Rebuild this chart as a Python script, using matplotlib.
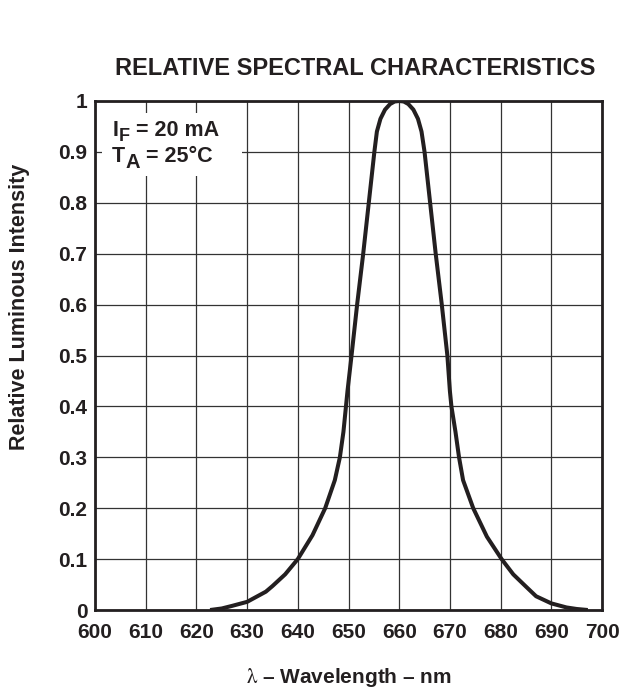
import numpy as np
import matplotlib
matplotlib.use("Agg")
import matplotlib.pyplot as plt
from matplotlib.patches import Rectangle

plt.rcParams['font.family'] = ['Liberation Sans', 'DejaVu Sans']
plt.rcParams['mathtext.fontset'] = 'stix'

# wavelength (nm) and relative luminous intensity
wavelength = [622.7, 625, 627, 630, 633.7, 635, 637.5, 640, 642.9, 645.4,
              647.3, 648.3, 649.0, 649.5, 649.8, 650.6, 651.7, 652.9, 654.0,
              655.1, 655.6, 656.3, 657.2, 658.2, 659.1, 660,
              660.9, 661.8, 662.8, 663.7, 664.4, 665.0, 666.1, 667.2, 668.4,
              669.5, 670.0, 670.3, 671.1, 671.8, 672.6, 674.6, 677.3, 680.2,
              682.5, 685, 687, 690, 693, 695, 697.2]
intensity = [0.0, 0.003, 0.008, 0.016, 0.036, 0.047, 0.07, 0.1, 0.147, 0.2,
             0.255, 0.3, 0.35, 0.4, 0.43, 0.5, 0.6, 0.7, 0.8,
             0.9, 0.94, 0.965, 0.983, 0.994, 0.999, 1.0,
             0.999, 0.994, 0.983, 0.965, 0.94, 0.9, 0.8, 0.7, 0.6,
             0.5, 0.43, 0.4, 0.35, 0.3, 0.255, 0.2, 0.144, 0.1,
             0.07, 0.046, 0.027, 0.013, 0.005, 0.002, 0.0]

x_ticks = np.arange(600, 701, 10)
y_ticks = [0, 0.1, 0.2, 0.3, 0.4, 0.5, 0.6, 0.7, 0.8, 0.9, 1]
y_tick_labels = ['0', '0.1', '0.2', '0.3', '0.4', '0.5', '0.6', '0.7', '0.8', '0.9', '1']

ink = '#231f20'

fig = plt.figure(figsize=(6.24, 6.90), dpi=100)
ax = fig.add_axes([95 / 624, 80 / 690, 507 / 624, 509 / 690])

ax.plot(wavelength, intensity, color=ink, lw=2.9, zorder=4,
        solid_joinstyle='round', solid_capstyle='butt')

ax.set_xlim(600, 700)
ax.set_ylim(0, 1)
ax.set_xticks(x_ticks)
ax.set_yticks(y_ticks)
ax.set_yticklabels(y_tick_labels)
ax.grid(True, color='#333333', lw=0.9, zorder=1)
ax.set_axisbelow(True)
ax.tick_params(length=0, labelsize=15, colors=ink)
ax.tick_params(axis='y', pad=5.5)
ax.tick_params(axis='x', pad=9.5)
for lab in ax.get_xticklabels() + ax.get_yticklabels():
    lab.set_fontweight('bold')
for sp in ax.spines.values():
    sp.set_linewidth(2.0)
    sp.set_color(ink)
    sp.set_zorder(5)

# white box behind the conditions text
ax.add_patch(Rectangle((0.0132, 0.8527), 0.276, 0.1231, transform=ax.transAxes,
                       facecolor='white', edgecolor='none', zorder=2))

kw = dict(fontweight='bold', color=ink, zorder=6)
t1 = ax.text(0.034, 0.931, "I", transform=ax.transAxes, va='baseline',
             fontsize=15.5, **kw)
t2 = ax.annotate("F", xy=(1, 0), xycoords=t1, xytext=(0.5, -3.0),
                 textcoords='offset points', va='bottom', fontsize=13, **kw)
ax.annotate(" = 20 mA", xy=(1, 0), xycoords=t2, xytext=(0, 3.0),
            textcoords='offset points', va='bottom', fontsize=15.5, **kw)
t3 = ax.text(0.034, 0.880, "T", transform=ax.transAxes, va='baseline',
             fontsize=15.5, **kw)
t4 = ax.annotate("A", xy=(1, 0), xycoords=t3, xytext=(0, -3.8),
                 textcoords='offset points', va='bottom', fontsize=14.5, **kw)
ax.annotate(" = 25°C", xy=(1, 0), xycoords=t4, xytext=(0, 3.8),
            textcoords='offset points', va='bottom', fontsize=15.5, **kw)

ax.set_title("RELATIVE SPECTRAL CHARACTERISTICS", fontsize=17,
             fontweight='bold', color=ink, pad=19, x=0.514)
ax.set_xlabel(r"$\mathrm{\lambda}$ – Wavelength – nm", fontsize=15,
              fontweight='bold', color=ink, labelpad=17)
ax.set_ylabel("Relative Luminous Intensity", fontsize=15.5, fontweight='bold',
              color=ink)
ax.yaxis.set_label_coords(-0.128, 0.595)

fig.savefig("out.png", dpi=100)
